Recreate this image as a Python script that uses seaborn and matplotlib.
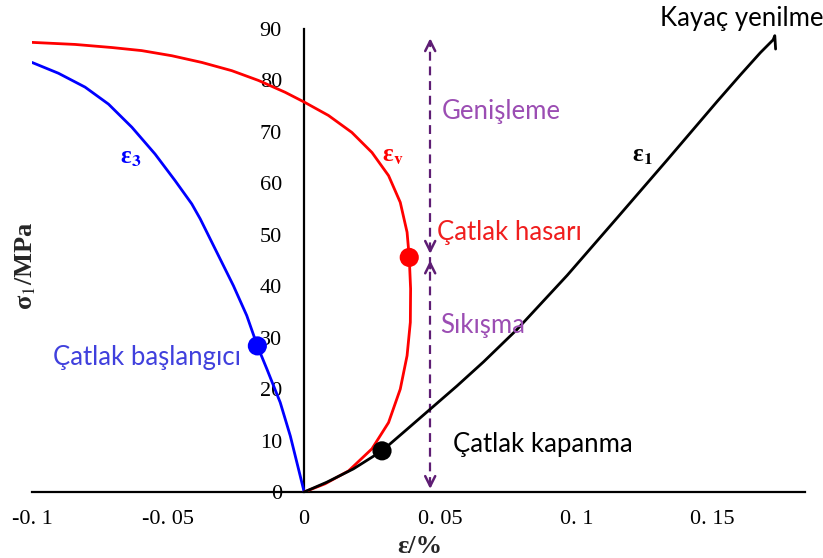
import matplotlib
matplotlib.use("Agg")
import matplotlib.pyplot as plt
import seaborn as sns
import pandas as pd

# Stress–strain curves (strain in %, axial stress in MPa)
eps3_x = [0.0, -0.0021, -0.0051, -0.0088, -0.0137, -0.0172, -0.0211, -0.0260,
          -0.0321, -0.0382, -0.0413, -0.0474, -0.0548, -0.0633, -0.0719, -0.0805,
          -0.0903, -0.1000]
eps3_y = [0.0, 4.5, 10.9, 17.4, 23.9, 28.4, 34.3, 40.1,
          46.6, 53.1, 56.0, 60.5, 65.7, 70.9, 75.4, 78.7,
          81.4, 83.5]

epsv_x = [0.0, 0.0077, 0.0163, 0.0249, 0.0310, 0.0353, 0.0378, 0.0390, 0.0391,
          0.0386, 0.0378, 0.0353, 0.0310, 0.0249, 0.0175, 0.0089, 0.0, -0.0070,
          -0.0168, -0.0266, -0.0376, -0.0486, -0.0597, -0.0707, -0.0842, -0.1000]
epsv_y = [0.0, 1.6, 4.1, 8.4, 13.5, 20.0, 26.5, 33.0, 39.5,
          45.6, 50.5, 56.3, 61.5, 66.0, 69.9, 73.2, 75.8, 77.7,
          80.0, 81.9, 83.5, 84.8, 85.8, 86.4, 87.0, 87.4]

eps1_x = [0.0, 0.0083, 0.0181, 0.0286, 0.0378, 0.0463, 0.0561, 0.0659, 0.0782,
          0.0966, 0.1150, 0.1333, 0.1517, 0.1603, 0.1676, 0.1723, 0.1729, 0.1732]
eps1_y = [0.0, 1.9, 4.5, 8.0, 12.2, 16.1, 20.6, 25.3, 31.6,
          42.1, 53.3, 64.5, 75.9, 81.1, 85.4, 87.9, 88.7, 86.1]

# Characteristic points: crack initiation, crack damage, crack closure
key_x = [-0.0172, 0.0386, 0.0286]
key_y = [28.4, 45.6, 8.0]
key_colors = ["#0000FF", "#FF0000", "#000000"]

xtick_vals = [-0.1, -0.05, 0.0, 0.05, 0.1, 0.15]
xtick_labels = ["-0. 1", "-0. 05", "0", "0. 05", "0. 1", "0. 15"]
ytick_vals = [0, 10, 20, 30, 40, 50, 60, 70, 80, 90]

# Dilatancy boundary (vertical dashed line with arrows)
boundary_x = 0.0463
boundary_top = 88.2
boundary_bottom = 0.6
boundary_mid = [46.3, 45.0]

sns.set_style("white")
plt.rcParams["font.family"] = ["Liberation Serif", "DejaVu Serif"]
plt.rcParams["mathtext.fontset"] = "stix"

fig = plt.figure(figsize=(8.23, 5.58), dpi=100)
ax = fig.add_axes([32 / 823, 66 / 558, 773 / 823, 463 / 558])

curves = [
    (eps3_x, eps3_y, "#0000FF"),
    (epsv_x, epsv_y, "#FF0000"),
    (eps1_x, eps1_y, "#000000"),
]
for xs, ys, col in curves:
    df = pd.DataFrame({"x": xs, "y": ys})
    sns.lineplot(data=df, x="x", y="y", sort=False, estimator=None,
                 color=col, lw=2.0, ax=ax, zorder=3)

pts = pd.DataFrame({"x": key_x, "y": key_y, "c": key_colors})
sns.scatterplot(data=pts, x="x", y="y", hue="c", palette={c: c for c in key_colors},
                s=190, edgecolor="none", legend=False, ax=ax, zorder=4)

pcol = "#5E1D74"
ax.vlines(boundary_x, boundary_bottom + 0.5, boundary_top - 0.5, colors=pcol,
          linestyles=(0, (4, 2.6)), lw=1.6, zorder=2)
head_kw = dict(arrowstyle="->", color=pcol, lw=1.8, mutation_scale=18,
               shrinkA=0, shrinkB=0)
for tip, tail in [(boundary_top, boundary_top - 1.5),
                  (boundary_bottom, boundary_bottom + 1.5),
                  (boundary_mid[0], boundary_mid[0] + 1.5),
                  (boundary_mid[1], boundary_mid[1] - 1.5)]:
    ax.annotate("", xy=(boundary_x, tip), xytext=(boundary_x, tail),
                arrowprops=dict(head_kw), annotation_clip=False)

ax.set_xlim(-0.1, 0.184)
ax.set_ylim(0, 90)

ax.spines["left"].set_position(("data", 0))
ax.spines["right"].set_visible(False)
ax.spines["top"].set_visible(False)
for s in ("left", "bottom"):
    ax.spines[s].set_color("black")
    ax.spines[s].set_linewidth(1.6)

ax.set_xticks(xtick_vals)
ax.set_xticklabels(xtick_labels)
ax.set_yticks(ytick_vals)
ax.tick_params(axis="both", direction="in", length=6, width=1.4, colors="black",
               labelsize=16)
ax.tick_params(axis="y", pad=16)
ax.tick_params(axis="x", pad=13)

ax.set_xlabel("ε/%", fontsize=19, fontweight="bold")
ax.xaxis.set_label_coords(0.502, -0.092)
ax.set_ylabel("σ$_{1}$/MPa", fontsize=19, fontweight="bold")
ax.yaxis.set_label_coords(0.008, 0.488)

sans = ["Lato", "DejaVu Sans"]
fs = 18.5
ax.text(0.0506, 73.9, "Genişleme", color="#9B4DB3", fontsize=fs, family=sans,
        va="center", ha="left")
ax.text(0.0488, 50.4, "Çatlak hasarı", color="#F01E1E", fontsize=fs, family=sans,
        va="center", ha="left")
ax.text(0.0500, 32.3, "Sıkışma", color="#9B4DB3", fontsize=fs, family=sans,
        va="center", ha="left")
ax.text(0.0547, 9.3, "Çatlak kapanma", color="black", fontsize=fs, family=sans,
        va="center", ha="left")
ax.text(0.1309, 92.0, "Kayaç yenilme", color="black", fontsize=fs, family=sans,
        va="center", ha="left", clip_on=False)
ax.text(-0.0922, 26.2, "Çatlak başlangıcı", color="#4040DD", fontsize=fs,
        family=sans, va="center", ha="left")

ax.text(-0.0676, 65.0, r"ε$_{\mathbf{3}}$", color="#0000FF", fontsize=18,
        fontweight="bold", va="center", ha="left")
ax.text(0.0286, 65.4, r"ε$_{\mathbf{v}}$", color="#FF0000", fontsize=18,
        fontweight="bold", va="center", ha="left")
ax.text(0.1204, 65.4, r"ε$_{\mathbf{1}}$", color="black", fontsize=18,
        fontweight="bold", va="center", ha="left")

fig.savefig("out.png", dpi=100)
